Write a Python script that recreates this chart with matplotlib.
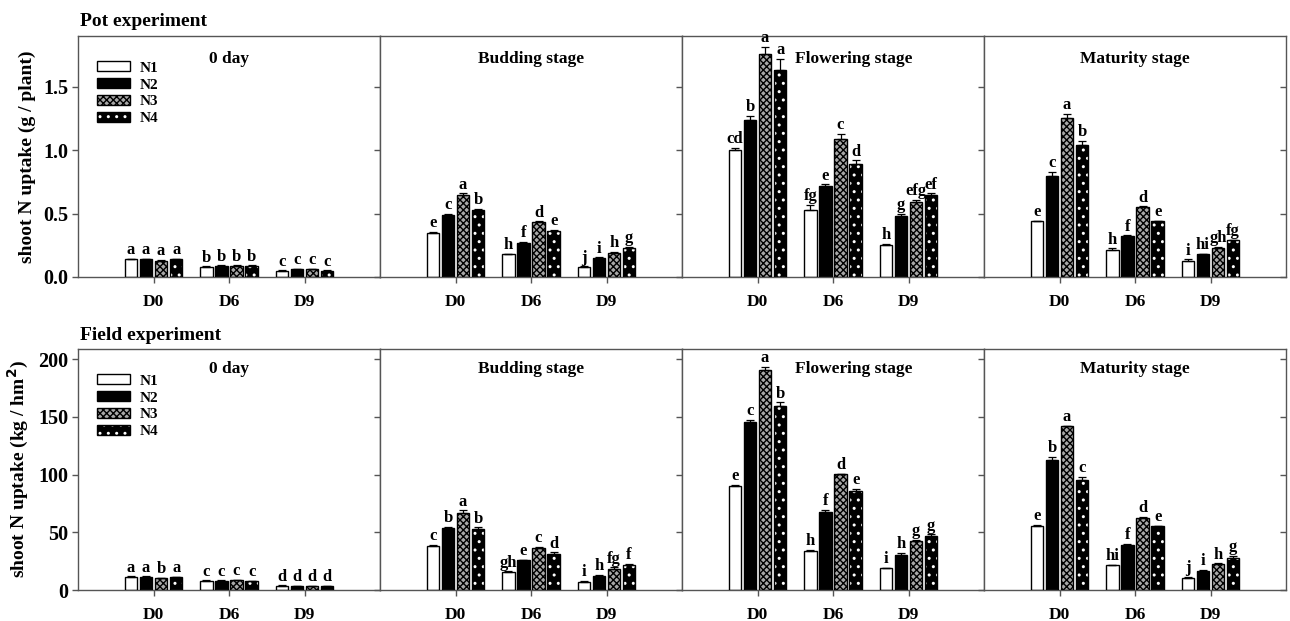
import matplotlib
matplotlib.use('Agg')
import matplotlib.pyplot as plt
import numpy as np
from matplotlib.patches import Patch

plt.rcParams['font.family'] = 'Liberation Serif'
plt.rcParams['font.weight'] = 'bold'
plt.rcParams['axes.labelweight'] = 'bold'
plt.rcParams['hatch.linewidth'] = 1.0

days = ['D0', 'D6', 'D9']
treatments = ['N1', 'N2', 'N3', 'N4']
stages = ['0 day', 'Budding stage', 'Flowering stage', 'Maturity stage']

# rows: N1..N4, columns: D0, D6, D9
pot_0day = [[0.14, 0.08, 0.05], [0.14, 0.09, 0.06], [0.13, 0.09, 0.06], [0.14, 0.09, 0.05]]
pot_0day_err = [[0.003, 0.003, 0.003], [0.003, 0.003, 0.003], [0.003, 0.003, 0.003], [0.003, 0.003, 0.003]]
pot_0day_let = [['a', 'b', 'c'], ['a', 'b', 'c'], ['a', 'b', 'c'], ['a', 'b', 'c']]

pot_budding = [[0.35, 0.18, 0.08], [0.49, 0.27, 0.15], [0.65, 0.43, 0.19], [0.53, 0.36, 0.23]]
pot_budding_err = [[0.005, 0.005, 0.005], [0.008, 0.008, 0.006], [0.01, 0.008, 0.008], [0.01, 0.01, 0.008]]
pot_budding_let = [['e', 'h', 'j'], ['c', 'f', 'i'], ['a', 'd', 'h'], ['b', 'e', 'g']]

pot_flowering = [[1.00, 0.53, 0.25], [1.24, 0.72, 0.48], [1.76, 1.09, 0.59], [1.63, 0.89, 0.65]]
pot_flowering_err = [[0.02, 0.04, 0.01], [0.03, 0.01, 0.02], [0.055, 0.04, 0.02], [0.09, 0.03, 0.01]]
pot_flowering_let = [['cd', 'fg', 'h'], ['b', 'e', 'g'], ['a', 'c', 'efg'], ['a', 'd', 'ef']]

pot_maturity = [[0.44, 0.21, 0.13], [0.80, 0.32, 0.18], [1.25, 0.55, 0.23], [1.04, 0.44, 0.29]]
pot_maturity_err = [[0.005, 0.015, 0.008], [0.03, 0.008, 0.005], [0.035, 0.008, 0.005], [0.035, 0.005, 0.005]]
pot_maturity_let = [['e', 'h', 'i'], ['c', 'f', 'hi'], ['a', 'd', 'gh'], ['b', 'e', 'fg']]

field_0day = [[11.5, 8.0, 3.8], [11.5, 8.0, 3.2], [10.5, 8.5, 3.2], [11.2, 7.5, 3.2]]
field_0day_err = [[0.3, 0.3, 0.2], [0.3, 0.3, 0.2], [0.3, 0.3, 0.2], [0.3, 0.3, 0.2]]
field_0day_let = [['a', 'c', 'd'], ['a', 'c', 'd'], ['b', 'c', 'd'], ['a', 'c', 'd']]

field_budding = [[38.4, 15.6, 7.2], [53.4, 25.7, 12.4], [67.0, 36.1, 18.5], [52.9, 31.5, 21.4]]
field_budding_err = [[0.8, 0.5, 0.5], [1.5, 0.5, 0.7], [2.0, 1.5, 1.0], [1.5, 1.0, 1.0]]
field_budding_let = [['c', 'gh', 'i'], ['b', 'e', 'h'], ['a', 'c', 'fg'], ['b', 'd', 'f']]

field_flowering = [[89.8, 34.0, 18.8], [145.3, 67.9, 30.1], [190.4, 100.2, 42.7], [159.2, 85.8, 47.1]]
field_flowering_err = [[1.5, 0.5, 0.5], [2.0, 1.5, 2.0], [3.0, 0.5, 1.0], [3.5, 2.0, 1.0]]
field_flowering_let = [['e', 'h', 'i'], ['c', 'f', 'h'], ['a', 'd', 'g'], ['b', 'e', 'g']]

field_maturity = [[55.2, 21.4, 10.7], [112.4, 38.7, 16.7], [141.8, 62.4, 22.5], [95.6, 55.2, 28.0]]
field_maturity_err = [[1.5, 0.5, 0.5], [3.0, 1.0, 1.0], [0.5, 1.0, 0.5], [2.5, 0.5, 1.5]]
field_maturity_let = [['e', 'hi', 'j'], ['b', 'f', 'i'], ['a', 'd', 'h'], ['c', 'e', 'g']]

pot_panels = [(pot_0day, pot_0day_err, pot_0day_let),
              (pot_budding, pot_budding_err, pot_budding_let),
              (pot_flowering, pot_flowering_err, pot_flowering_let),
              (pot_maturity, pot_maturity_err, pot_maturity_let)]
field_panels = [(field_0day, field_0day_err, field_0day_let),
                (field_budding, field_budding_err, field_budding_let),
                (field_flowering, field_flowering_err, field_flowering_let),
                (field_maturity, field_maturity_err, field_maturity_let)]

# bar styles: face, hatch, hatch colour
styles = [('white', None, None),
          ('black', None, None),
          ('#a8a8a8', 'xxxxx', 'black'),
          ('black', '..', 'white')]

spine_col = '#555555'
fs = 12


def draw_bars(ax, vals, errs, lets, x, offs, width):
    for k in range(4):
        face, hatch, hcol = styles[k]
        xs = x + offs[k]
        ax.bar(xs, vals[k], width, color=face, edgecolor='none', zorder=2)
        if hatch:
            ax.bar(xs, vals[k], width, color='none', edgecolor=hcol,
                   hatch=hatch, linewidth=0, zorder=3)
        ax.bar(xs, vals[k], width, color='none', edgecolor='black',
               linewidth=1.0, zorder=4)
        ax.errorbar(xs, vals[k], yerr=[np.zeros(3), errs[k]], fmt='none',
                    ecolor='black', elinewidth=0.9, capsize=3, capthick=0.9,
                    zorder=5)
        for j in range(3):
            ax.annotate(lets[k][j], (xs[j], vals[k][j] + errs[k][j]),
                        xytext=(0, 0.5), textcoords='offset points',
                        ha='center', va='bottom', fontsize=fs,
                        fontweight='bold', zorder=6)


def make_row(fig, bottom, panels, ymax, yticks, yticklabels, ylabel, header,
             title_y):
    W, H = 1290.0, 621.0
    left0 = 78 / W
    pw = 302 / W
    ph = 241 / H
    x = np.arange(1, 4)
    offs = [-0.3, -0.1, 0.1, 0.3]
    width = 0.165
    axes = []
    for i, (vals, errs, lets) in enumerate(panels):
        ax = fig.add_axes([left0 + i * pw, bottom, pw, ph])
        draw_bars(ax, vals, errs, lets, x, offs, width)
        ax.set_xlim(0, 4)
        ax.set_ylim(0, ymax)
        ax.set_xticks(x)
        ax.set_xticklabels(days, fontsize=12.5, fontweight='bold')
        ax.tick_params(axis='x', direction='out', length=4, width=1,
                       color=spine_col, pad=8)
        ax.set_yticks(yticks)
        if i == 0:
            ax.set_yticklabels(yticklabels, fontsize=14.5, fontweight='bold')
            ax.tick_params(axis='y', left=True, right=False, labelleft=True,
                           direction='out', length=4, width=1,
                           color=spine_col, pad=3)
            ax.set_ylabel(ylabel, fontsize=14, fontweight='bold', labelpad=5)
        else:
            ax.tick_params(axis='y', left=False, labelleft=False,
                           right=False)
        # inward ticks on the right edge of every panel
        sec = ax.secondary_yaxis('right')
        sec.set_yticks(yticks)
        sec.tick_params(direction='in', length=4, width=1, color=spine_col,
                        labelright=False)
        sec.spines['right'].set_visible(False)
        for sp in ax.spines.values():
            sp.set_color(spine_col)
            sp.set_linewidth(1.0)
        tx = 0.57 if i == 2 else 0.5
        ax.text(tx, title_y, stages[i], transform=ax.transAxes, ha='center',
                va='center', fontsize=12.5, fontweight='bold')
        axes.append(ax)
    fig.text(80 / W, bottom + ph + 14 / H, header, ha='left', va='center',
             fontsize=14, fontweight='bold')

    # legend
    handles = []
    for k in range(4):
        face, hatch, hcol = styles[k]
        parts = [Patch(facecolor=face, edgecolor='none')]
        if hatch:
            parts.append(Patch(facecolor='none', edgecolor=hcol, hatch=hatch,
                               linewidth=0))
        parts.append(Patch(facecolor='none', edgecolor='black', linewidth=1.0))
        handles.append(tuple(parts))
    axes[0].legend(handles, treatments, loc='upper left',
                   bbox_to_anchor=(0.042, 0.92), frameon=False, fontsize=11,
                   handlelength=2.2, handleheight=0.6, labelspacing=0.24,
                   handletextpad=0.6, borderaxespad=0)
    return axes


def main():
    fig = plt.figure(figsize=(12.9, 6.21), dpi=100)
    make_row(fig, (621 - 277) / 621.0, pot_panels, 1.9,
             [0.0, 0.5, 1.0, 1.5], ['0.0', '0.5', '1.0', '1.5'],
             'shoot N uptake (g / plant)', 'Pot experiment', 0.905)
    make_row(fig, (621 - 590) / 621.0, field_panels, 208.8,
             [0, 50, 100, 150, 200], ['0', '50', '100', '150', '200'],
             'shoot N uptake (kg / hm$^\\mathbf{2}$)', 'Field experiment',
             0.918)
    fig.savefig('out.png', dpi=100)


if __name__ == '__main__':
    main()
